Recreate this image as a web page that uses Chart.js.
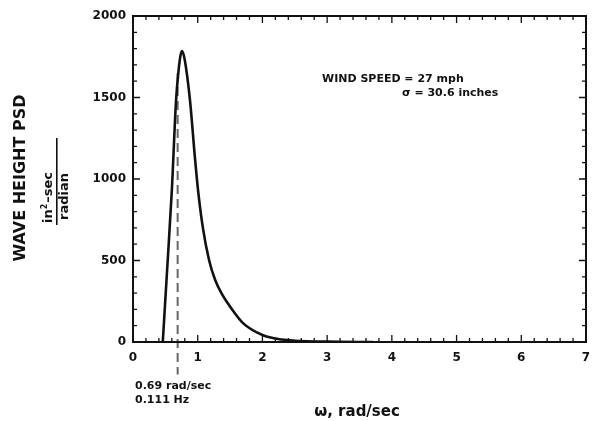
<!DOCTYPE html>
<html lang="en">
<head>
<meta charset="UTF-8">
<title>Wave Height PSD</title>
<script src="https://cdn.jsdelivr.net/npm/chart.js"></script>
<style>
    body { margin: 0; background: #ffffff; }
    #psdChart { display: block; }
</style>
</head>
<body>
<canvas id="psdChart" width="596" height="421"></canvas>
<script>
    // spectrum: omega in rad/sec, psd in in^2-sec/radian
    const omega = [0.46, 0.53, 0.60, 0.665, 0.70, 0.735, 0.76, 0.80, 0.88, 0.96, 1.005, 1.08, 1.175, 1.27, 1.38, 1.50, 1.70, 2.00, 2.30, 2.50, 3.00, 3.71];
    const psd   = [0,    460,  930,  1480,  1650, 1760,  1785, 1730, 1485, 1117, 932,   700,  503,   380,  290,  217,  116,  43,   15,   8,    2,    0];

    // peak frequency marker
    const peakOmega = 0.69;
    const markerY = [1650, -200];
    const markerLabels = ["0.69 rad/sec", "0.111 Hz"];

    const xTicks = [0, 1, 2, 3, 4, 5, 6, 7];
    const yTicks = [0, 500, 1000, 1500, 2000];
    const noteLines = ["WIND SPEED = 27 mph", "\u03c3 = 30.6 inches"];

    const ink = "#111111";
    const tickFont = { family: "DejaVu Sans", weight: "bold", size: 12 };

    const framePlugin = {
        id: "frame",
        afterDraw(chart) {
            const { ctx, chartArea: a, scales: { x, y } } = chart;
            ctx.save();
            ctx.strokeStyle = ink;
            ctx.lineWidth = 2;
            ctx.strokeRect(a.left, a.top, a.right - a.left, a.bottom - a.top);

            // inward ticks on all four sides
            ctx.lineWidth = 1.3;
            ctx.beginPath();
            for (let i = 0; i <= 35; i++) {
                const px = x.getPixelForValue(i * 0.2);
                const len = i % 5 === 0 ? 7 : 4;
                ctx.moveTo(px, a.bottom); ctx.lineTo(px, a.bottom - len);
                ctx.moveTo(px, a.top); ctx.lineTo(px, a.top + len);
            }
            for (let i = 0; i <= 20; i++) {
                const py = y.getPixelForValue(i * 100);
                const len = i % 5 === 0 ? 7 : 4;
                ctx.moveTo(a.left, py); ctx.lineTo(a.left + len, py);
                ctx.moveTo(a.right, py); ctx.lineTo(a.right - len, py);
            }
            ctx.stroke();

            ctx.fillStyle = ink;
            ctx.textBaseline = "middle";

            // wind note
            ctx.font = "bold 11px 'DejaVu Sans'";
            ctx.textAlign = "left";
            ctx.fillText(noteLines[0], 322, 79);
            ctx.fillText(noteLines[1], 402, 93);

            // peak marker labels
            ctx.fillText(markerLabels[0], 135, 386);
            ctx.fillText(markerLabels[1], 135, 400);

            // x axis title
            ctx.font = "bold 15px 'DejaVu Sans'";
            ctx.textAlign = "center";
            ctx.fillText("\u03c9, rad/sec", 357, 412);

            // y axis title, rotated
            ctx.save();
            ctx.translate(21, 178);
            ctx.rotate(-Math.PI / 2);
            ctx.font = "bold 16px 'DejaVu Sans'";
            ctx.fillText("WAVE HEIGHT PSD", 0, 0);
            ctx.restore();

            // units as a fraction: in^2-sec over radian
            ctx.save();
            ctx.rotate(-Math.PI / 2);
            // rotated frame: (u, v) -> screen (v, -u)
            ctx.textAlign = "left";
            ctx.font = "bold 13px 'DejaVu Sans'";
            let u = -223;
            ctx.fillText("in", u, 49);
            u += ctx.measureText("in").width;
            ctx.font = "bold 8px 'DejaVu Sans'";
            ctx.fillText("2", u, 45);
            u += ctx.measureText("2").width + 1;
            ctx.font = "bold 13px 'DejaVu Sans'";
            ctx.fillText("\u2013sec", u, 49);
            ctx.fillRect(-225, 56, 87, 1.6);
            ctx.fillText("radian", -220, 65);
            ctx.restore();

            ctx.restore();
        }
    };

    new Chart(document.getElementById("psdChart"), {
        type: "line",
        data: {
            datasets: [
                {
                    data: omega.map((w, i) => ({ x: w, y: psd[i] })),
                    borderColor: ink,
                    borderWidth: 2.6,
                    pointRadius: 0,
                    cubicInterpolationMode: "monotone"
                },
                {
                    data: markerY.map(v => ({ x: peakOmega, y: v })),
                    borderColor: "#666666",
                    borderWidth: 2,
                    borderDash: [9, 5],
                    pointRadius: 0,
                    clip: false
                }
            ]
        },
        options: {
            responsive: false,
            animation: false,
            layout: { padding: { top: 16, right: 10, left: 0, bottom: 0 } },
            plugins: { legend: { display: false }, tooltip: { enabled: false } },
            scales: {
                x: {
                    type: "linear",
                    min: 0,
                    max: 7,
                    afterBuildTicks: s => { s.ticks = xTicks.map(v => ({ value: v })); },
                    afterFit: s => { s.height = 79; s.paddingRight = 0; },
                    grid: { display: false, drawTicks: false },
                    border: { display: false },
                    ticks: { color: ink, font: tickFont, padding: 9, maxRotation: 0, callback: v => String(v) }
                },
                y: {
                    type: "linear",
                    min: 0,
                    max: 2000,
                    afterBuildTicks: s => { s.ticks = yTicks.map(v => ({ value: v })); },
                    afterFit: s => { s.width = 133; },
                    grid: { display: false, drawTicks: false },
                    border: { display: false },
                    ticks: { color: ink, font: tickFont, padding: 7, callback: v => String(v) }
                }
            }
        },
        plugins: [framePlugin]
    });
</script>
</body>
</html>
